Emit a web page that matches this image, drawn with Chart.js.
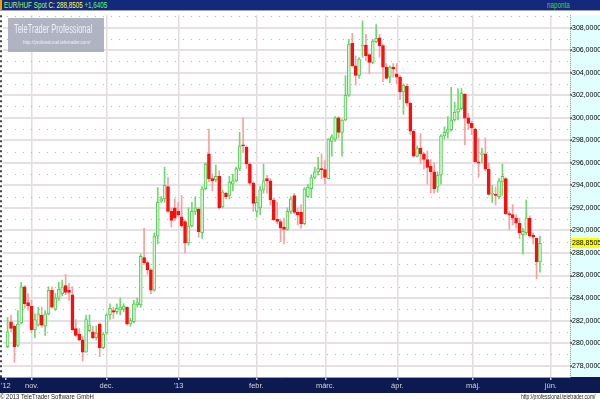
<!DOCTYPE html>
<html>
<head>
<meta charset="utf-8">
<script src="https://cdn.jsdelivr.net/npm/chart.js@4.4.0/dist/chart.umd.min.js"></script>
<style>
  body { margin:0; width:600px; height:400px; background:#fff; position:relative; overflow:hidden;
         font-family:'Liberation Sans',Arial,sans-serif; }
  .nar { display:inline-block; transform-origin:0 0; white-space:nowrap; }
  #head { position:absolute; left:0; top:0; width:600px; height:10px; background:#14297d; border-bottom:1px solid #a0a4b4; }
  #head .mark { position:absolute; left:0; top:0; width:2px; height:10px; background:#ff9a00; }
  #head .nar { position:absolute; top:0; font-size:8.5px; line-height:10px; transform:scaleX(0.74); }
  #wrap { position:absolute; left:0; top:11px; width:600px; height:382px; }
  #logo { position:absolute; left:8px; top:18px; width:96px; height:34px; background:rgba(165,170,186,0.88); }
  #logo .t1 { position:absolute; left:6px; top:5px; font-size:12px; line-height:13px; color:#eef1f8; transform:scaleX(0.62); }
  #logo .t2 { position:absolute; left:15px; top:21px; font-size:6px; line-height:7px; color:#eef1f8; transform:scaleX(0.76); }
  #foot { position:absolute; left:0; top:393px; width:600px; height:7px; font-size:7.5px; line-height:7px; color:#222; }
  #foot .l { position:absolute; left:0; top:0; transform:scaleX(0.8); }
  #foot .r { position:absolute; left:521px; top:0; font-size:7px; transform:scaleX(0.72); }
</style>
</head>
<body>
<div id="head">
  <div class="mark"></div>
  <span class="nar" style="left:4px;color:#9cff5a">EUR/HUF Spot <span style="color:#ffff4a">C: 288,8505</span> <span style="color:#5cff5c">+1,6405</span></span>
  <span class="nar" style="left:547px;color:#3cd83c">naponta</span>
</div>
<div id="wrap"><canvas id="myChart" width="600" height="382"></canvas></div>
<div id="logo"><span class="nar t1">TeleTrader Professional</span><span class="nar t2">http://professional.teletrader.com/</span></div>
<div id="foot"><span class="nar l">© 2013 TeleTrader Software GmbH</span><span class="nar r">http://professional.teletrader.com/</span></div>
<script>
// napi gyertyák, EUR/HUF, 2012 okt. vége - 2013 máj. vége
const opens = [
  279.7,281.9,281.5,279.8,281.8,285.0,283.6,283.3,281.2,281.6,282.5,281.5,282.6,284.7,283.0,284.0,284.4,285.1,284.7,284.3,
  281.3,280.8,280.3,279.2,281.1,281.0,280.5,281.7,279.6,280.9,282.5,282.9,282.8,282.95,283.0,283.2,281.7,281.9,283.4,283.4,
  287.6,287.15,286.5,284.7,289.5,292.6,292.8,293.9,291.7,292.0,291.7,291.2,290.8,288.9,290.4,291.7,291.9,289.8,293.7,296.8,
  294.6,294.5,294.8,292.1,293.3,293.1,294.1,294.4,295.5,297.6,297.4,295.9,294.2,291.7,292.0,293.6,294.6,294.4,292.7,291.0,
  290.8,290.3,290.1,291.7,293.1,291.6,291.6,290.6,293.0,293.7,294.7,295.2,295.5,295.4,294.6,297.9,298.1,300.0,298.7,299.8,
  302.0,306.6,304.6,303.75,306.37,306.45,305.6,304.9,306.75,307.1,306.4,304.5,303.6,304.5,303.9,303.6,302.3,302.8,301.3,298.8,
  296.6,297.3,296.8,296.3,295.7,295.2,293.85,294.9,298.4,298.7,298.95,299.8,300.5,300.8,302.1,300.0,299.5,299.0,296.1,296.75,
  296.8,295.45,293.2,293.2,293.0,294.3,294.6,291.5,291.4,291.1,290.65,289.63,289.8,291.1,289.6,289.3,287.21
];
const highs = [
  282.3,282.5,281.6,282.9,285.4,285.1,284.4,283.8,282.6,283.2,283.2,282.9,285.0,285.0,284.4,285.4,285.6,286.1,285.3,285.0,
  282.1,281.3,280.6,282.5,282.5,281.5,281.5,281.8,280.9,282.6,283.5,283.2,283.5,284.0,283.5,283.2,282.2,283.8,284.0,287.9,
  290.2,287.3,286.6,289.8,293.8,293.0,295.6,294.7,292.0,292.8,292.5,293.1,290.9,292.0,292.5,293.0,292.0,293.9,296.0,299.0,
  295.0,295.8,295.3,293.6,293.4,294.8,295.0,295.6,298.7,300.0,297.5,296.0,294.3,293.0,293.9,295.9,294.9,294.6,292.9,292.5,
  291.0,291.1,292.0,293.0,293.3,292.0,292.3,293.8,294.1,294.9,295.6,296.5,296.8,296.2,298.15,298.5,300.1,300.1,299.85,303.75,
  306.95,307.5,305.5,305.35,308.6,307.4,305.7,306.95,308.26,307.4,306.5,304.8,304.6,304.8,304.8,303.75,303.0,303.0,301.35,298.95,
  297.5,298.6,296.9,297.05,296.3,296.0,295.2,298.5,299.2,300.1,302.7,301.4,302.6,302.6,302.15,300.4,299.7,299.1,298.2,297.3,
  298.2,296.0,294.0,293.85,294.6,295.9,294.7,291.7,292.3,291.4,291.1,290.2,292.7,291.3,289.8,289.3,289.5
];
const lows = [
  279.6,281.0,278.3,279.7,281.7,283.1,282.9,281.0,280.5,281.5,281.4,280.7,282.5,283.1,282.9,283.8,284.2,284.3,283.8,281.1,
  280.6,280.2,278.4,279.2,281.0,280.4,280.3,278.8,279.5,280.8,282.1,282.2,282.6,282.5,282.8,281.6,281.5,281.8,283.2,283.2,
  287.0,286.1,284.4,284.6,288.8,292.5,292.5,291.6,290.3,290.9,291.2,290.3,288.0,288.7,290.3,291.4,289.4,289.3,293.6,294.3,
  293.5,294.3,291.9,292.0,292.8,292.8,293.5,294.3,295.3,296.9,295.5,294.0,291.7,291.2,291.4,293.3,293.3,292.25,290.9,290.6,
  289.0,288.8,290.0,291.5,291.5,290.5,290.2,290.5,292.9,292.9,294.6,294.9,294.6,294.1,294.6,296.6,297.9,298.2,296.6,299.75,
  301.9,304.5,302.9,303.5,305.35,305.06,303.9,304.8,306.66,305.35,303.2,303.45,303.1,303.6,303.0,301.6,300.3,301.1,298.5,296.5,
  296.5,295.9,295.45,294.1,293.3,293.3,293.4,294.1,298.1,298.2,298.8,299.7,299.8,300.7,297.6,298.95,298.5,296.0,294.7,296.0,
  295.3,293.1,292.5,292.25,292.8,293.1,291.4,290.1,290.5,290.2,289.3,287.9,289.6,289.4,288.8,285.7,286.3
];
const closes = [
  281.0,281.3,279.7,281.7,285.0,283.5,283.3,281.2,282.1,282.6,281.6,282.6,284.7,283.2,284.0,284.8,285.0,284.5,284.5,281.2,
  280.7,280.3,279.2,282.1,281.6,280.5,280.9,279.6,280.8,282.5,283.1,282.75,283.1,283.2,283.3,281.7,282.0,283.5,283.6,287.7,
  287.15,286.5,284.7,289.5,292.5,292.8,294.0,291.7,290.9,291.1,291.4,290.4,288.9,290.4,291.7,292.0,289.9,293.7,295.9,294.6,
  294.4,294.8,292.0,293.4,293.0,294.3,294.4,295.5,297.5,297.5,295.9,294.2,292.4,292.5,293.6,294.4,294.4,292.7,290.95,290.8,
  290.2,290.1,291.7,292.8,291.6,291.4,290.6,293.7,293.85,294.7,295.2,295.5,295.4,294.7,298.1,298.3,300.0,298.7,299.8,302.0,
  306.5,304.6,303.75,305.2,306.45,305.5,304.9,306.8,307.05,306.37,304.5,303.5,304.5,304.33,303.6,302.3,302.9,301.3,298.8,296.6,
  297.3,296.8,296.3,295.6,295.2,293.7,294.9,298.4,298.7,298.95,299.8,300.5,300.8,302.2,299.96,299.5,299.1,296.1,295.98,296.9,
  295.45,293.2,293.3,293.1,294.4,294.8,291.5,291.4,291.1,290.65,289.8,289.92,291.1,289.5,289.4,287.21,288.8505
];

const yTicks = [278,280,282,284,286,288,290,292,294,296,298,300,302,304,306,308];
const yMinor = [277,279,281,283,285,287,289,291,293,295,297,299,301,303,305,307,309];
const tickLabels = ["'12","nov.","dec.","'13","febr.","márc.","ápr.","máj.","jún."];
const tickIdx = [-0.5,7.1,29.0,50.1,72.9,93.1,114.2,136.4,159.2];

const up = closes.map((c, i) => c >= opens[i]);
const wickData = closes.map((c, i) => ({x: i, y: [lows[i], highs[i]]}));
const bodyData = closes.map((c, i) => ({x: i, y: [Math.min(opens[i], c), Math.max(opens[i], c)]}));

const axisFont = "'Liberation Sans',Arial,sans-serif";
function fmt(v) { return v.toFixed(4).replace('.', ','); }

const frame = {
  id: 'frame',
  beforeDraw(chart) {
    const {ctx, chartArea: a, width, height} = chart;
    ctx.save();
    ctx.fillStyle = '#ffffff';
    ctx.fillRect(0, 0, width, height);
    ctx.fillStyle = '#0d1a52';
    ctx.fillRect(0, a.bottom, width, height - a.bottom);
    ctx.fillStyle = '#e2ffff';
    ctx.fillRect(a.right, a.top, width - a.right, a.bottom - a.top);
    ctx.restore();
  },
  beforeDatasetsDraw(chart) {
    const {ctx, chartArea: a, scales} = chart;
    ctx.save();
    ctx.strokeStyle = '#b4b4b4';
    ctx.lineWidth = 1;
    ctx.setLineDash([1, 7]);
    yMinor.forEach(v => {
      const y = Math.round(scales.y.getPixelForValue(v)) + 0.5;
      if (y < a.top || y > a.bottom) return;
      ctx.beginPath(); ctx.moveTo(a.left + 4, y); ctx.lineTo(a.right, y); ctx.stroke();
    });
    ctx.restore();
  },
  afterDraw(chart) {
    const {ctx, chartArea: a, scales, width} = chart;
    ctx.save();
    ctx.strokeStyle = '#a8983c';
    ctx.setLineDash([1, 1]);
    ctx.beginPath(); ctx.moveTo(a.right + 0.5, a.top); ctx.lineTo(a.right + 0.5, a.bottom); ctx.stroke();
    ctx.strokeStyle = '#444';
    ctx.lineWidth = 2;
    ctx.setLineDash([2, 3]);
    ctx.beginPath(); ctx.moveTo(1, a.top); ctx.lineTo(1, a.bottom); ctx.stroke();
    ctx.setLineDash([]);
    // utolsó árfolyam
    const last = closes[closes.length - 1];
    const y = Math.round(scales.y.getPixelForValue(last));
    ctx.fillStyle = '#ffff00';
    ctx.fillRect(a.right + 1, y - 5, width - a.right - 2, 10);
    ctx.fillStyle = '#000';
    ctx.font = '7px ' + axisFont;
    ctx.textBaseline = 'middle';
    ctx.fillText(fmt(last), a.right + 2, y);
    ctx.restore();
  }
};

const ctx = document.querySelector('#myChart').getContext('2d');
const myChart = new Chart(ctx, {
  type: 'bar',
  data: {
    datasets: [{
      label: 'wick',
      data: wickData,
      backgroundColor: up.map(u => u ? '#6fd86f' : '#f7a0a0'),
      barThickness: 1,
      order: 2
    }, {
      label: 'body',
      data: bodyData,
      backgroundColor: up.map(u => u ? '#d2f6d2' : '#ff0c0c'),
      borderColor: up.map(u => u ? '#55cc55' : '#ff0c0c'),
      borderWidth: 1,
      borderSkipped: false,
      barThickness: 3,
      minBarLength: 1,
      order: 1
    }]
  },
  options: {
    responsive: false,
    animation: false,
    devicePixelRatio: 1,
    grouped: false,
    layout: { padding: { left: 2, right: 0, top: 0, bottom: 0 } },
    plugins: { legend: { display: false }, tooltip: { enabled: false } },
    scales: {
      x: {
        type: 'linear',
        min: -1.37,
        max: 164.8,
        offset: false,
        afterBuildTicks: s => { s.ticks = tickIdx.map(v => ({value: v})); },
        afterFit: s => { s.height = 16; },
        ticks: {
          autoSkip: false,
          maxRotation: 0,
          padding: 1,
          color: '#d4d4d8',
          font: { size: 7.5, family: axisFont },
          callback: (v, i) => tickLabels[i]
        },
        grid: {
          offset: false,
          color: c => c.index === 0 ? 'rgba(0,0,0,0)' : '#e2dcdf',
          lineWidth: 1.5,
          tickLength: 3,
          tickColor: '#c8c8d0'
        },
        border: { display: true, color: '#9a9aa8' }
      },
      y: {
        position: 'right',
        min: 277.0,
        max: 309.1,
        afterBuildTicks: s => { s.ticks = yTicks.map(v => ({value: v})); },
        afterFit: s => { s.width = 30; },
        ticks: {
          padding: 0,
          color: '#000',
          font: { size: 7, family: axisFont },
          callback: v => fmt(v)
        },
        grid: {
          color: '#e6dfe4',
          lineWidth: 2,
          tickLength: 2,
          tickColor: '#666'
        },
        border: { display: false }
      }
    }
  },
  plugins: [frame]
});
</script>
</body>
</html>
